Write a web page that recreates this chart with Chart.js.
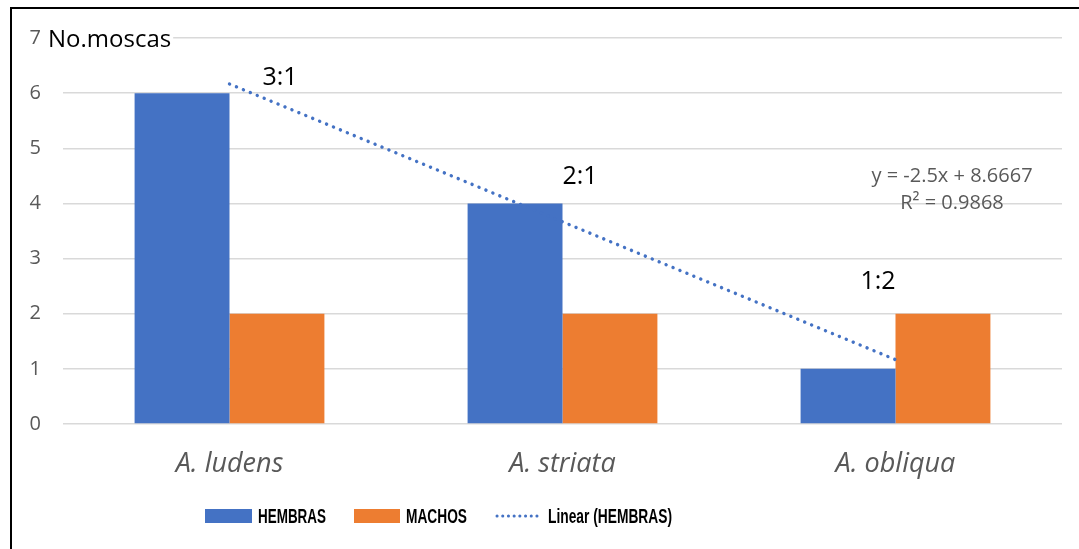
<!DOCTYPE html>
<html>
<head>
<meta charset="utf-8">
<script src="https://cdn.jsdelivr.net/npm/chart.js@4.4.1/dist/chart.umd.min.js"></script>
<style>
  html, body { margin: 0; padding: 0; background: #fff; }
  #wrap { position: relative; width: 1079px; height: 549px; }
  canvas { display: block; }
</style>
</head>
<body>
<div id="wrap"><canvas id="c" width="1079" height="549"></canvas></div>
<script>
// Species on the x axis
const species = ['A. ludens', 'A. striata', 'A. obliqua'];
// Flies counted per species
const hembras = [6, 4, 1];
const machos = [2, 2, 2];
// Linear fit of HEMBRAS: y = -2.5x + 8.6667
const trendSlope = -2.5;
const trendIntercept = 8.6667;
const trendValues = [6.1667, 3.6667, 1.1667];
const ratioLabels = ['3:1', '2:1', '1:2'];
const yTicks = [0, 1, 2, 3, 4, 5, 6, 7];

const BLUE = '#4472C4';
const ORANGE = '#ED7D31';
const GRAY = '#595959';
const SANS = '"Open Sans", "Liberation Sans", sans-serif';

const extras = {
  id: 'extras',
  afterDatasetsDraw(chart) {
    const ctx = chart.ctx;
    ctx.save();
    // ratio labels with white backing over the trend line
    ctx.font = '25px ' + SANS;
    ctx.textAlign = 'center';
    ctx.textBaseline = 'middle';
    const ratioPos = [[280, 78], [580, 177], [878, 282]];
    ratioLabels.forEach((t, i) => {
      const [px, py] = ratioPos[i];
      const w = ctx.measureText(t).width;
      ctx.fillStyle = '#fff';
      ctx.fillRect(px - w / 2 - 5, py - 14, w + 10, 28);
      ctx.fillStyle = '#000';
      ctx.fillText(t, px, py);
    });
    // trend equation
    ctx.font = '20px ' + SANS;
    ctx.fillStyle = GRAY;
    ctx.fillText('y = ' + trendSlope + 'x + ' + trendIntercept, 952, 176, 171);
    ctx.fillText('R² = 0.9868', 952, 203, 112);
    // axis title next to top tick
    ctx.textAlign = 'left';
    ctx.font = '24px ' + SANS;
    const bg = ctx.measureText('No.moscas').width;
    ctx.fillStyle = '#fff';
    ctx.fillRect(46, 26, Math.min(bg, 129) + 4, 28);
    ctx.fillStyle = '#000';
    ctx.fillText('No.moscas', 48, 40, 129);

    // legend
    ctx.font = 'bold 21px "Liberation Sans", Arial, sans-serif';
    ctx.textBaseline = 'middle';
    const ly = 516;
    ctx.fillStyle = BLUE; ctx.fillRect(205, ly - 7, 47, 14);
    ctx.fillStyle = '#000'; ctx.fillText('HEMBRAS', 258, ly + 1, 68);
    ctx.fillStyle = ORANGE; ctx.fillRect(354, ly - 7, 46, 14);
    ctx.fillStyle = '#000'; ctx.fillText('MACHOS', 406, ly + 1, 61);
    ctx.strokeStyle = BLUE; ctx.lineWidth = 3; ctx.lineCap = 'round';
    ctx.setLineDash([0.1, 5.6]);
    ctx.beginPath(); ctx.moveTo(497, ly); ctx.lineTo(541, ly); ctx.stroke();
    ctx.setLineDash([]);
    ctx.fillStyle = '#000'; ctx.fillText('Linear (HEMBRAS)', 548, ly + 1, 124);

    // outer frame (top and left)
    ctx.strokeStyle = '#000'; ctx.lineWidth = 2; ctx.lineCap = 'butt';
    ctx.beginPath(); ctx.moveTo(11, 549); ctx.lineTo(11, 8); ctx.lineTo(1079, 8); ctx.stroke();
    ctx.restore();
  }
};

new Chart(document.getElementById('c'), {
  data: {
    labels: species,
    datasets: [
      { type: 'line', label: 'Linear (HEMBRAS)', data: trendValues, borderColor: BLUE,
        borderWidth: 3.4, borderDash: [0.1, 7.4], borderCapStyle: 'round', pointRadius: 0,
        fill: false, tension: 0, order: 0 },
      { type: 'bar', label: 'HEMBRAS', data: hembras, backgroundColor: BLUE, order: 1,
        categoryPercentage: 0.57, barPercentage: 1.0 },
      { type: 'bar', label: 'MACHOS', data: machos, backgroundColor: ORANGE, order: 1,
        categoryPercentage: 0.57, barPercentage: 1.0 }
    ]
  },
  options: {
    responsive: false,
    animation: false,
    layout: { padding: { top: 38, right: 17, left: 0, bottom: 0 } },
    plugins: { legend: { display: false }, tooltip: { enabled: false } },
    scales: {
      x: {
        grid: { display: false },
        border: { display: false },
        ticks: { color: GRAY, padding: 16,
          font: { family: SANS, size: 27, style: 'italic' } },
        afterFit(s) { s.height = 125; }
      },
      y: {
        min: 0, max: 7,
        afterBuildTicks(s) { s.ticks = yTicks.map(v => ({ value: v })); },
        grid: { color: '#d9d9d9', lineWidth: 1.5, drawTicks: false },
        border: { display: false },
        ticks: { color: GRAY, padding: 22, font: { family: SANS, size: 20 } },
        afterFit(s) { s.width = 63; }
      }
    }
  },
  plugins: [extras]
});
</script>
</body>
</html>
